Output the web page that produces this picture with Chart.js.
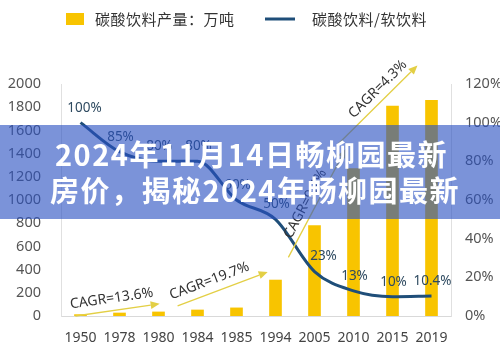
<!DOCTYPE html>
<html><head><meta charset="utf-8">
<script src="https://cdn.jsdelivr.net/npm/chart.js@4/dist/chart.umd.min.js"></script>
<style>html,body{margin:0;padding:0;background:#fff;}#wrap{width:500px;height:347px;position:relative}</style>
</head><body><div id="wrap"><canvas id="c" width="500" height="347"></canvas></div>
<script>
const categories = ['1950','1978','1980','1984','1985','1994','2005','2010','2015','2019'];
const production = [12, 26, 35, 52, 70, 310, 780, 1270, 1810, 1860];
const share = [100, 85, 80, 80, 60, 50, 23, 13, 10, 10.4];
const shareLabels = ['100%','85%','80%','80%','60%','50%','23%','13%','10%','10.4%'];
const seriesNames = ['碳酸饮料产量：万吨', '碳酸饮料/软饮料'];
const cagrLabels = ['CAGR=13.6%', 'CAGR=19.7%', 'CAGR=9.4%', 'CAGR=4.3%'];
const titleLines = ['2024年11月14日畅柳园最新', '房价，揭秘2024年畅柳园最新'];

const BAR = '#F8C400', LINE = '#1F4E79', ARROW = '#E3CF45';
const CJK = '"Noto Sans CJK SC","Noto Sans",sans-serif';

// arrows in data units: [fromIndex, fromValue, toIndex, toValue, textFraction, textOffset]
const arrows = [
  [-0.13, 0, 2.03, 105, 0.45, 12],
  [2.49, 88, 4.8, 380, 0.4, 12],
  [5.33, 505, 6.8, 1440, 0.45, 10],
  [6.6, 1480, 8.64, 2160, 0.6, 11]
];

const overlay = {
  id: 'overlay',
  afterDatasetsDraw(chart) {
    const ctx = chart.ctx;
    const xs = chart.scales.x, ys = chart.scales.y;
    const meta = chart.getDatasetMeta(1);
    ctx.save();
    ctx.font = '13.5px "Noto Sans",sans-serif';
    ctx.fillStyle = '#2E4A60';
    ctx.textAlign = 'center';
    ctx.textBaseline = 'middle';
    meta.data.forEach((p, i) => {
      const dx = i === 0 ? 4 : (i === 6 ? 9 : 1);
      ctx.fillText(shareLabels[i], p.x + dx, p.y - 15);
    });
    ctx.restore();
    arrows.forEach((a, k) => {
      const x1 = xs.getPixelForValue(a[0]), y1 = ys.getPixelForValue(a[1]);
      const x2 = xs.getPixelForValue(a[2]), y2 = ys.getPixelForValue(a[3]);
      const ang = Math.atan2(y2 - y1, x2 - x1);
      ctx.save();
      ctx.strokeStyle = ARROW; ctx.fillStyle = ARROW; ctx.lineWidth = 1.3;
      const hl = 9, hw = 4;
      const bx = x2 - hl * Math.cos(ang), by = y2 - hl * Math.sin(ang);
      ctx.beginPath(); ctx.moveTo(x1, y1); ctx.lineTo(bx, by); ctx.stroke();
      ctx.beginPath();
      ctx.moveTo(x2, y2);
      ctx.lineTo(bx + hw * Math.sin(ang), by - hw * Math.cos(ang));
      ctx.lineTo(bx - hw * Math.sin(ang), by + hw * Math.cos(ang));
      ctx.closePath(); ctx.fill();
      const t = a[4];
      const mx = x1 + (x2 - x1) * t, my = y1 + (y2 - y1) * t;
      const tx = mx + a[5] * Math.sin(ang), ty = my - a[5] * Math.cos(ang);
      ctx.translate(tx, ty); ctx.rotate(ang);
      ctx.font = '14px "Noto Sans",sans-serif';
      ctx.fillStyle = '#333';
      ctx.textAlign = 'center'; ctx.textBaseline = 'middle';
      ctx.fillText(cagrLabels[k], 0, 0);
      ctx.restore();
    });
  },
  afterDraw(chart) {
    const ctx = chart.ctx;
    ctx.save();
    ctx.fillStyle = BAR;
    ctx.fillRect(66, 13, 18, 12);
    ctx.font = '15px ' + CJK;
    ctx.fillStyle = '#333';
    ctx.textBaseline = 'middle';
    ctx.textAlign = 'left';
    ctx.letterSpacing = '0.5px';
    ctx.fillText(seriesNames[0], 95, 19);
    ctx.strokeStyle = LINE; ctx.lineWidth = 3;
    ctx.beginPath(); ctx.moveTo(265, 19); ctx.lineTo(295, 19); ctx.stroke();
    ctx.fillText(seriesNames[1], 312, 19);
    ctx.fillStyle = 'rgba(42,80,193,0.62)';
    ctx.fillRect(0, 125, 500, 94);
    ctx.fillStyle = '#fff';
    ctx.font = 'bold 29px ' + CJK;
    ctx.letterSpacing = '1.5px';
    ctx.textAlign = 'left';
    ctx.fillText(titleLines[0], 55, 155);
    ctx.fillText(titleLines[1], 50, 191);
    ctx.restore();
  }
};

new Chart(document.getElementById('c'), {
  data: {
    labels: categories,
    datasets: [
      { type: 'bar', label: seriesNames[0], data: production, backgroundColor: BAR, barThickness: 12, yAxisID: 'y', order: 1 },
      { type: 'line', label: seriesNames[1], data: share, borderColor: LINE, borderWidth: 3, pointRadius: 0,
        cubicInterpolationMode: 'monotone', yAxisID: 'y1', order: 0 }
    ]
  },
  options: {
    responsive: false,
    animation: false,
    layout: { padding: { top: 84, left: 0, right: 0, bottom: 0 } },
    plugins: { legend: { display: false }, tooltip: { enabled: false } },
    scales: {
      x: {
        offset: true,
        grid: { display: false },
        border: { color: '#d9d9d9' },
        ticks: { font: { size: 14, family: '"Noto Sans",sans-serif' }, color: '#444', padding: 6, maxRotation: 0 },
        afterFit(s) { s.height = 31; }
      },
      y: {
        position: 'left', min: 0, max: 2000,
        grid: { display: false },
        border: { color: '#e0e0e0' },
        ticks: { stepSize: 200, callback: v => String(v), font: { size: 14.5, family: '"Noto Sans",sans-serif' }, color: '#555', padding: 12 },
        afterFit(s) { s.width = 61; }
      },
      y1: {
        position: 'right', min: 0, max: 120,
        grid: { display: false },
        border: { color: '#e0e0e0' },
        ticks: { stepSize: 20, callback: v => v + '%', font: { size: 14.5, family: '"Noto Sans",sans-serif' }, color: '#555', padding: 6 },
        afterFit(s) { s.width = 49; }
      }
    }
  },
  plugins: [overlay]
});
</script></body></html>
